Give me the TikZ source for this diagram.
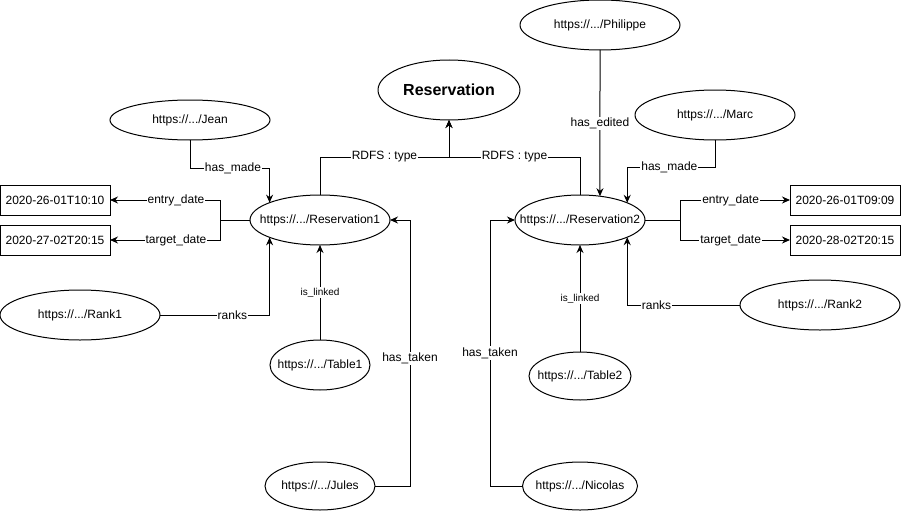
\documentclass[tikz,border=0pt]{standalone}
\usepackage{fontspec}
\setmainfont{Liberation Sans}
\usetikzlibrary{arrows.meta}
\usetikzlibrary{shapes}

\begin{document}
\begin{tikzpicture}[x = 1pt, y = -1pt, font = \fontsize{12}{14}\selectfont]
	\tikzstyle{ellStyle}=[shape = ellipse, draw, line width = 1pt, inner sep = 0pt, outer sep = 0pt, minimum width = 160pt, minimum height = 50pt]
	\tikzstyle{dateStyle}=[shape = rectangle, draw, line width = 1pt, minimum width = 110pt, minimum height = 30pt, inner sep = 0pt, outer sep = 0pt]
	\tikzstyle{EdgeStyle}=[line width = 1pt, -{Stealth[length = 8pt, width = 7pt]}]
	\tikzstyle{labelStyle}=[fill = white, inner sep = 1pt]
	\useasboundingbox (0,0) rectangle (901,511);
	\node[ellStyle, minimum width = 142pt, minimum height = 60pt, label = {[font = \fontsize{16}{18}\selectfont\bfseries]center:Reservation}] (res) at (449,90) {};
	\node[ellStyle, minimum height = 40pt, label = center:{https://.../Jean}] (jean) at (190,120) {};
	\node[ellStyle, minimum width = 140pt, label = center:{https://.../Reservation1}] (r1) at (320,220) {};
	\node[ellStyle, label = center:{https://.../Rank1}] (rank1) at (80,315) {};
	\node[ellStyle, minimum width = 100pt, label = center:{https://.../Table1}] (t1) at (320,365) {};
	\node[ellStyle, minimum width = 110pt, minimum height = 48pt, label = center:{https://.../Jules}] (jules) at (320,486) {};
	\node[dateStyle] (d1) at (55,200) {2020-26-01T10:10};
	\node[dateStyle] (d2) at (55,240) {2020-27-02T20:15};
	\node[ellStyle, label = center:{https://.../Philippe}] (phil) at (600,25) {};
	\node[ellStyle, label = center:{https://.../Marc}] (marc) at (715,115) {};
	\node[ellStyle, minimum width = 130pt, label = center:{https://.../Reservation2}] (r2) at (580,220) {};
	\node[ellStyle, label = center:{https://.../Rank2}] (rank2) at (820,305) {};
	\node[ellStyle, minimum width = 102pt, minimum height = 48pt, label = center:{https://.../Table2}] (t2) at (580,376) {};
	\node[ellStyle, minimum width = 115pt, minimum height = 48pt, label = center:{https://.../Nicolas}] (nic) at (580,486) {};
	\node[dateStyle] (d3) at (845,200) {2020-26-01T09:09};
	\node[dateStyle] (d4) at (845,240) {2020-28-02T20:15};
	\draw[EdgeStyle] (r1.north) -- ++(0,-38) -| node[labelStyle, pos = 0.25] {RDFS : type} (res.south);
	\draw[EdgeStyle] (r2.north) -- ++(0,-38) -| node[labelStyle, pos = 0.25] {RDFS : type} (res.south);
	\draw[EdgeStyle] (jean.south) -- ++(0,28) -| node[labelStyle, pos = 0.27] {has\_made} (r1.161);
	\draw[EdgeStyle] (r1.west) -- ++(-30,0) |- node[labelStyle, pos = 0.7] {entry\_date} (d1.east);
	\draw[EdgeStyle] (r1.west) -- ++(-30,0) |- node[labelStyle, pos = 0.7] {target\_date} (d2.east);
	\draw[EdgeStyle] (rank1.east) -| node[labelStyle, pos = 0.33] {ranks} (r1.199);
	\draw[EdgeStyle] (t1.north) -- node[labelStyle, font = \fontsize{10}{12}\selectfont] {is\_linked} (r1.south);
	\draw[EdgeStyle] (jules.east) -- ++(35,0) |- node[labelStyle, pos = 0.24] {has\_taken} (r1.east);
	\draw[EdgeStyle] (phil.south) -- node[labelStyle] {has\_edited} (r2.50);
	\draw[EdgeStyle] (marc.south) -- ++(0,27) -| node[labelStyle, pos = 0.26] {has\_made} (r2.20);
	\draw[EdgeStyle] (r2.east) -- ++(35,0) |- node[labelStyle, pos = 0.73] {entry\_date} (d3.west);
	\draw[EdgeStyle] (r2.east) -- ++(35,0) |- node[labelStyle, pos = 0.73] {target\_date} (d4.west);
	\draw[EdgeStyle] (rank2.west) -| node[labelStyle, pos = 0.37] {ranks} (r2.340);
	\draw[EdgeStyle] (t2.north) -- node[labelStyle, font = \fontsize{10}{12}\selectfont] {is\_linked} (r2.south);
	\draw[EdgeStyle] (nic.west) -- ++(-32.5,0) |- node[labelStyle, pos = 0.25] {has\_taken} (r2.west);
\end{tikzpicture}
\end{document}
